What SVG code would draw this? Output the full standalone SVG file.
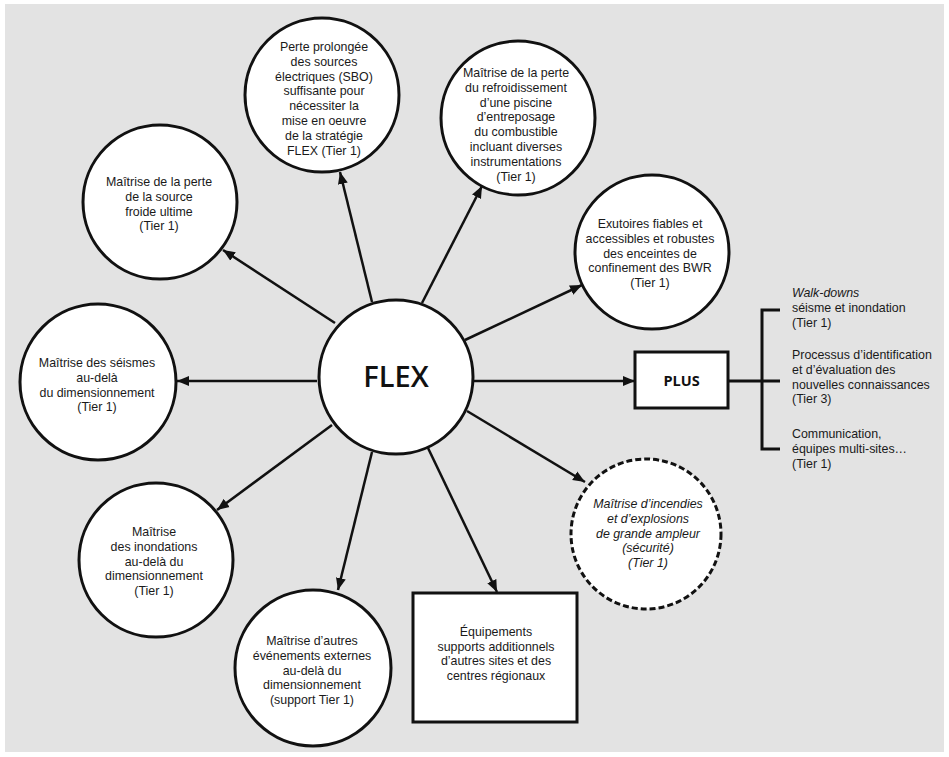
<svg xmlns="http://www.w3.org/2000/svg" width="949" height="757" viewBox="0 0 949 757">
<defs>
<style>
.n{fill:#fff;stroke:#111;stroke-width:3}
.d{fill:#fff;stroke:#111;stroke-width:3;stroke-dasharray:6 3}
.t{font-family:"Liberation Sans",Arial,sans-serif;font-size:12.4px;fill:#1a1a1a;text-anchor:middle}
.l{font-family:"Liberation Sans",Arial,sans-serif;font-size:12.4px;fill:#1a1a1a}
.i{font-style:italic}
.c{stroke:#111;stroke-width:2.5;fill:none;marker-end:url(#ah)}
.b{stroke:#111;stroke-width:3;fill:none}
</style>
<marker id="ah" markerUnits="userSpaceOnUse" markerWidth="13" markerHeight="11" refX="12" refY="5.5" orient="auto">
<path d="M0,0.5 L12,5.5 L0,10.5 z" fill="#111"/>
</marker>
</defs>
<rect x="0" y="0" width="949" height="757" fill="#fff"/>
<rect x="5" y="4" width="939" height="748" fill="#e3e3e3"/>

<g id="connectors">
<line class="c" x1="372" y1="302" x2="340" y2="172"/>
<line class="c" x1="422" y1="303" x2="482" y2="186"/>
<line class="c" x1="335" y1="323" x2="223" y2="250"/>
<line class="c" x1="465" y1="340" x2="582" y2="285"/>
<line class="c" x1="317" y1="381" x2="177" y2="381"/>
<line class="c" x1="473" y1="381" x2="635" y2="381"/>
<line class="c" x1="467" y1="411" x2="585" y2="482"/>
<line class="c" x1="428" y1="448" x2="497" y2="592"/>
<line class="c" x1="372" y1="452" x2="338" y2="590"/>
<line class="c" x1="332" y1="425" x2="217" y2="510"/>
<path class="b" d="M728,381 H780 M780,310 H762 V449 H780"/>
</g>

<g id="flex">
<circle class="n" cx="396" cy="377" r="77"/>
<text x="396" y="387" style="font-family:'Open Sans','Noto Sans','Liberation Sans',sans-serif;font-size:29px;font-weight:600;fill:#111;text-anchor:middle">FLEX</text>
</g>

<g id="sbo">
<circle class="n" cx="322" cy="95" r="77"/>
<text class="t"><tspan x="324" y="51">Perte prolongée</tspan><tspan x="324" y="65.8">des sources</tspan><tspan x="324" y="80.6">électriques (SBO)</tspan><tspan x="324" y="95.4">suffisante pour</tspan><tspan x="324" y="110.2">nécessiter la</tspan><tspan x="324" y="125">mise en oeuvre</tspan><tspan x="324" y="139.8">de la stratégie</tspan><tspan x="324" y="154.6">FLEX (Tier 1)</tspan></text>
</g>

<g id="piscine">
<circle class="n" cx="518" cy="118" r="77"/>
<text class="t"><tspan x="516" y="77">Maîtrise de la perte</tspan><tspan x="516" y="91.8">du refroidissement</tspan><tspan x="516" y="106.6">d’une piscine</tspan><tspan x="516" y="121.4">d’entreposage</tspan><tspan x="516" y="136.2">du combustible</tspan><tspan x="516" y="151">incluant diverses</tspan><tspan x="516" y="165.8">instrumentations</tspan><tspan x="516" y="180.6">(Tier 1)</tspan></text>
</g>

<g id="source-froide">
<circle class="n" cx="160" cy="202" r="77"/>
<text class="t"><tspan x="159" y="186">Maîtrise de la perte</tspan><tspan x="159" y="200.8">de la source</tspan><tspan x="159" y="215.6">froide ultime</tspan><tspan x="159" y="230.4">(Tier 1)</tspan></text>
</g>

<g id="bwr">
<circle class="n" cx="652" cy="252" r="77"/>
<text class="t"><tspan x="650" y="228">Exutoires fiables et</tspan><tspan x="650" y="242.8">accessibles et robustes</tspan><tspan x="650" y="257.6">des enceintes de</tspan><tspan x="650" y="272.4">confinement des BWR</tspan><tspan x="650" y="287.2">(Tier 1)</tspan></text>
</g>

<g id="seismes">
<circle class="n" cx="98" cy="382" r="78"/>
<text class="t"><tspan x="97" y="367">Maîtrise des séismes</tspan><tspan x="97" y="381.8">au-delà</tspan><tspan x="97" y="396.6">du dimensionnement</tspan><tspan x="97" y="411.4">(Tier 1)</tspan></text>
</g>

<g id="inondations">
<circle class="n" cx="156" cy="560" r="77"/>
<text class="t"><tspan x="154" y="536">Maîtrise</tspan><tspan x="154" y="550.8">des inondations</tspan><tspan x="154" y="565.6">au-delà du</tspan><tspan x="154" y="580.4">dimensionnement</tspan><tspan x="154" y="595.2">(Tier 1)</tspan></text>
</g>

<g id="autres">
<circle class="n" cx="313" cy="668" r="78"/>
<text class="t"><tspan x="312" y="645">Maîtrise d’autres</tspan><tspan x="312" y="659.8">événements externes</tspan><tspan x="312" y="674.6">au-delà du</tspan><tspan x="312" y="689.4">dimensionnement</tspan><tspan x="312" y="704.2">(support Tier 1)</tspan></text>
</g>

<g id="equipements">
<rect x="413" y="593" width="164" height="129" fill="#fff" stroke="#111" stroke-width="3"/>
<text class="t"><tspan x="496" y="636">Équipements</tspan><tspan x="496" y="650.5">supports additionnels</tspan><tspan x="496" y="665">d’autres sites et des</tspan><tspan x="496" y="679.5">centres régionaux</tspan></text>
</g>

<g id="incendies">
<circle class="d" cx="646" cy="534" r="75"/>
<text class="t i"><tspan x="648" y="508">Maîtrise d’incendies</tspan><tspan x="648" y="522.8">et d’explosions</tspan><tspan x="648" y="537.6">de grande ampleur</tspan><tspan x="648" y="552.4">(sécurité)</tspan><tspan x="648" y="567.2">(Tier 1)</tspan></text>
</g>

<g id="plus">
<rect x="635" y="352" width="93" height="56" fill="#fff" stroke="#111" stroke-width="3"/>
<text x="681.5" y="386" style="font-family:'Open Sans','Noto Sans','Liberation Sans',sans-serif;font-size:14.5px;font-weight:bold;fill:#111;text-anchor:middle">PLUS</text>
</g>

<g id="plus-items">
<text class="l"><tspan x="792" y="297" font-style="italic">Walk-downs</tspan><tspan x="792" y="311.8">séisme et inondation</tspan><tspan x="792" y="326.6">(Tier 1)</tspan><tspan x="792" y="359">Processus d’identification</tspan><tspan x="792" y="373.8">et d’évaluation des</tspan><tspan x="792" y="388.6">nouvelles connaissances</tspan><tspan x="792" y="403.4">(Tier 3)</tspan><tspan x="792" y="438">Communication,</tspan><tspan x="792" y="452.8">équipes multi-sites…</tspan><tspan x="792" y="467.6">(Tier 1)</tspan></text>
</g>
</svg>
